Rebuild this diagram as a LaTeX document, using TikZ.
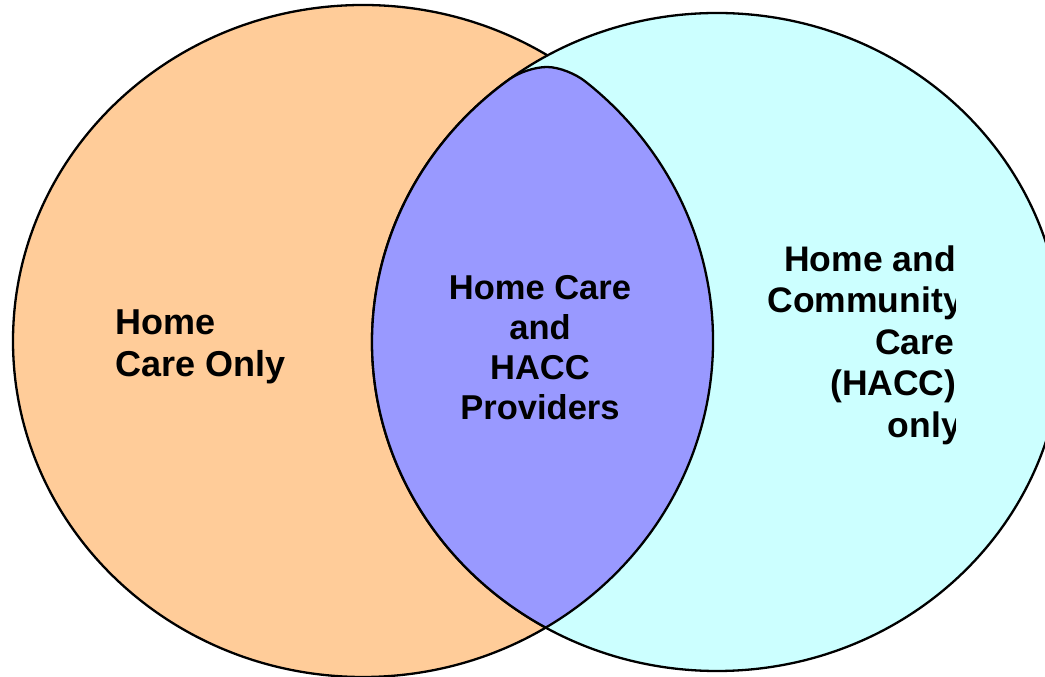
\documentclass[tikz,border=0pt]{standalone}
\usepackage{fontspec}
\setmainfont{Liberation Sans}
\definecolor{hcorange}{HTML}{FFCC99}
\definecolor{hacccyan}{HTML}{CCFFFF}
\definecolor{lensblue}{HTML}{9999FF}
\begin{document}
\begin{tikzpicture}[x=1pt,y=1pt,
  setshape/.style={draw=black, line width=2.3pt},
  lbl/.style={inner sep=0pt, font=\bfseries\fontsize{34.5}{40}\selectfont},
  lbll/.style={inner sep=0pt, font=\bfseries\fontsize{36}{41}\selectfont, anchor=base west},
  lblr/.style={inner sep=0pt, font=\bfseries\fontsize{35.5}{41}\selectfont, anchor=base west}]
\useasboundingbox (0,0) rectangle (1045,677);
\clip (0,0) rectangle (1045,677);
\path[setshape, fill=hcorange] (363,336) ellipse [x radius=350, y radius=336];
\path[setshape, fill=hacccyan] (717,335) ellipse [x radius=345, y radius=329];
\path[setshape, fill=lensblue] (545.7,49.4)
  arc[start angle=240.23, end angle=127, x radius=345, y radius=329]
  .. controls (519.1,604.7) and (535,610) .. (547,610)
  .. controls (559,610) and (575.6,603.2) .. (585.2,595.6)
  arc[start angle=50.6, end angle=-58.53, x radius=350, y radius=336] -- cycle;
% left label
\node[lbll] (hc1) at (115.5,342) {Home};
\node[lbll] (hc2) at (115.5,300) {Care Only};
% centre label
\node[lbl, anchor=base] (b1) at (540,377) {Home Care};
\node[lbl, anchor=base] (b2) at (540,337) {and};
\node[lbl, anchor=base] (b3) at (540,297) {HACC};
\node[lbl, anchor=base] (b4) at (540,257) {Providers};
% right label (clipped as in the reference)
\begin{scope}
\clip (0,0) rectangle (955,677);
\node[lblr] (r1) at (784.1,405) {Home and};
\node[lblr] (r2) at (767.3,364) {Community};
\node[lblr] (r3) at (875,322) {Care};
\node[lblr] (r4) at (830,281) {(HACC)};
\node[lblr] (r5) at (887.6,239) {only};
\end{scope}
\end{tikzpicture}
\end{document}
